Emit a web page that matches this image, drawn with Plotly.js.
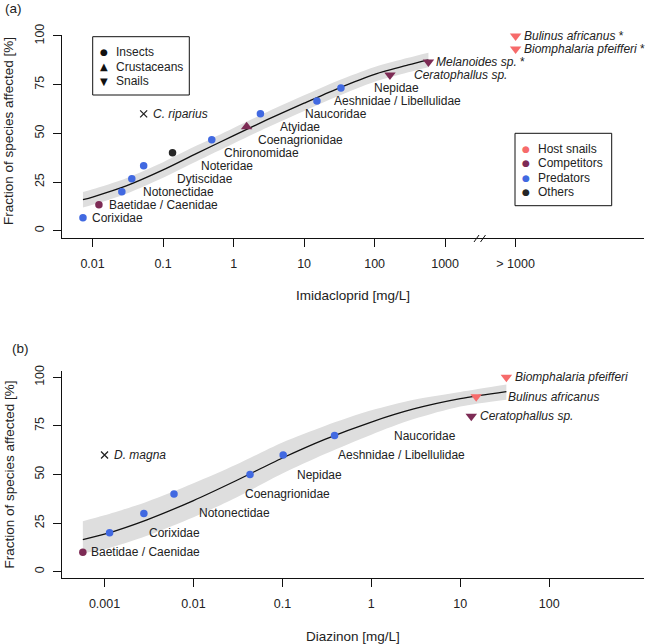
<!DOCTYPE html>
<html>
<head>
<meta charset="utf-8">
<script src="https://cdn.plot.ly/plotly-3.0.1.min.js"></script>
<style>html,body{margin:0;padding:0;background:#fff;}#chart{width:648px;height:644px;}</style>
</head>
<body>
<div id="chart"></div>
<script>
// ---------------- DATA: panel (a) Imidacloprid ----------------
const speciesA = ['Corixidae','Baetidae / Caenidae','Notonectidae','Dytiscidae','Noteridae','Chironomidae','Coenagrionidae','Atyidae','Naucoridae','Aeshnidae / Libellulidae','Nepidae','Ceratophallus sp.','Melanoides sp.','Biomphalaria pfeifferi','Bulinus africanus'];
const concA = [0.0073, 0.0123, 0.026, 0.036, 0.053, 0.136, 0.49, 1.53, 2.4, 15.2, 33.3, 165, 580, 10000, 10000]; // 10000 = "> 1000"
const fracA = [6.67, 13.33, 20, 26.67, 33.33, 40, 46.67, 53.33, 60, 66.67, 73.33, 80, 86.67, 93.33, 100];
const groupA = ['Predators','Competitors','Predators','Predators','Predators','Others','Predators','Competitors','Predators','Predators','Predators','Competitors','Competitors','Host snails','Host snails'];
const taxonA = ['Insects','Insects','Insects','Insects','Insects','Insects','Insects','Crustaceans','Insects','Insects','Insects','Snails','Snails','Snails','Snails'];
const starA = [false,false,false,false,false,false,false,false,false,false,false,false,true,true,true];
const refSpeciesA = ['C. riparius'];
const refConcA = [0.053];
const refFracA = [60];
const curveXA = [0.0073, 0.01, 0.03, 0.1, 0.3, 1, 3, 10, 30, 100, 300, 580];
const curveYA = [15.9, 17.3, 23, 31.2, 39.7, 48.8, 57, 65.5, 73, 80.3, 85.1, 87.7];
const upperA = [19.9, 21.3, 27, 35.2, 43.7, 52.8, 61, 69.5, 77, 84.1, 88.8, 91.4];
const lowerA = [11.9, 13.3, 19, 27.2, 35.7, 44.8, 53, 61.5, 69, 76.5, 81.4, 84];
const tickValsA = [0.01, 0.1, 1, 10, 100, 1000, 10000];
const tickTextA = ['0.01', '0.1', '1', '10', '100', '1000', '> 1000'];

// ---------------- DATA: panel (b) Diazinon ----------------
const speciesB = ['Baetidae / Caenidae','Corixidae','Notonectidae','Coenagrionidae','Nepidae','Aeshnidae / Libellulidae','Naucoridae','Ceratophallus sp.','Bulinus africanus','Biomphalaria pfeifferi'];
const concB = [0.00057, 0.00114, 0.00277, 0.00604, 0.0432, 0.102, 0.386, 13.3, 15.1, 33];
const fracB = [10, 20, 30, 40, 50, 60, 70, 80, 90, 100];
const groupB = ['Competitors','Predators','Predators','Predators','Predators','Predators','Predators','Competitors','Host snails','Host snails'];
const taxonB = ['Insects','Insects','Insects','Insects','Insects','Insects','Insects','Snails','Snails','Snails'];
const starB = [false,false,false,false,false,false,false,false,false,false];
const refSpeciesB = ['D. magna'];
const refConcB = [0.001];
const refFracB = [60];
const curveXB = [0.00057, 0.001, 0.003, 0.01, 0.03, 0.1, 0.3, 1, 3, 10, 33];
const curveYB = [16.5, 19.3, 26.7, 36.6, 46.8, 58.5, 68.1, 77, 83.7, 89, 92.6];
const upperB = [26, 29, 36, 45.5, 55, 66.5, 75, 83, 88.5, 92.5, 96.3];
const lowerB = [9.5, 11.5, 18.5, 28, 38, 50.5, 60.5, 70.5, 78.5, 85, 88.5];
const tickValsB = [0.001, 0.01, 0.1, 1, 10, 100];
const tickTextB = ['0.001', '0.01', '0.1', '1', '10', '100'];

const yTickVals = [0, 25, 50, 75, 100];
const taxonLegend = ['Insects', 'Crustaceans', 'Snails'];
const groupLegend = ['Host snails', 'Competitors', 'Predators', 'Others'];

// ---------------- STYLE / LAYOUT ----------------
const FONT = 'Liberation Sans, Arial, Helvetica, sans-serif';
const TXT = '#222222';
const groupColor = {'Host snails':'#F66B6B', 'Competitors':'#7D2B55', 'Predators':'#4169E1', 'Others':'#262626'};
const taxonSymbol = {'Insects':'circle', 'Crustaceans':'triangle-up', 'Snails':'triangle-down'};
const taxonSize = {'Insects':7.5, 'Crustaceans':10, 'Snails':10};
const taxonGlyph = {'Insects':'●', 'Crustaceans':'▲', 'Snails':'▼'};
const ITALIC = new Set(['Ceratophallus sp.','Melanoides sp.','Biomphalaria pfeifferi','Bulinus africanus','C. riparius','D. magna']);
// pixel offsets of labels from their points
const shiftA = [7, 8, 19, 43, 55, 49, 44, 31, 43, 15, 31, 22, 6, 6, 6];
const shiftB = [6.5, 37, 53, 69, 45, 53, 57, 6.5, 30, 6.5];
const refShift = 7;
const W = 648, H = 644;
const px = v => v / W, py = v => 1 - v / H;

function labelText(name, star) {
  let t = ITALIC.has(name) ? '<i>' + name + '</i>' : name;
  if (star) t += ' *';
  return t;
}

function panelTraces(xa, ya, cx, cy, up, lo, conc, frac, group, taxon, refC, refF) {
  return [
    {x: cx, y: lo, xaxis: xa, yaxis: ya, type: 'scatter', mode: 'lines', line: {width: 0, shape: 'spline', smoothing: 0.8, color: 'rgba(0,0,0,0)'}, hoverinfo: 'skip'},
    {x: cx, y: up, xaxis: xa, yaxis: ya, type: 'scatter', mode: 'lines', fill: 'tonexty', fillcolor: '#DEDEDE', line: {width: 0, shape: 'spline', smoothing: 0.8, color: 'rgba(0,0,0,0)'}, hoverinfo: 'skip'},
    {x: cx, y: cy, xaxis: xa, yaxis: ya, type: 'scatter', mode: 'lines', line: {width: 1.3, shape: 'spline', smoothing: 0.8, color: '#111'}},
    {x: conc, y: frac, xaxis: xa, yaxis: ya, type: 'scatter', mode: 'markers', cliponaxis: false,
      marker: {opacity: 1, color: group.map(g => groupColor[g]), symbol: taxon.map(t => taxonSymbol[t]), size: taxon.map(t => taxonSize[t]), line: {width: 0}}},
    {x: refC, y: refF, xaxis: xa, yaxis: ya, type: 'scatter', mode: 'markers', cliponaxis: false,
      marker: {opacity: 1, symbol: 'x-thin-open', size: 7, line: {width: 1.3, color: '#222'}, color: '#222'}}
  ];
}

const traces = [].concat(
  panelTraces('x', 'y', curveXA, curveYA, upperA, lowerA, concA, fracA, groupA, taxonA, refConcA, refFracA),
  panelTraces('x2', 'y2', curveXB, curveYB, upperB, lowerB, concB, fracB, groupB, taxonB, refConcB, refFracB)
);

const annotations = [];
function addLabels(xr, yr, names, conc, frac, stars, shifts) {
  names.forEach((n, i) => {
    annotations.push({xref: xr, yref: yr, x: Math.log10(conc[i]), y: frac[i], text: labelText(n, stars[i]),
      showarrow: false, xanchor: 'left', yanchor: 'middle', xshift: shifts[i], font: {family: FONT, size: 12, color: TXT}});
  });
}
addLabels('x', 'y', speciesA, concA, fracA, starA, shiftA);
addLabels('x2', 'y2', speciesB, concB, fracB, starB, shiftB);
addLabels('x', 'y', refSpeciesA, refConcA, refFracA, [false], [refShift]);
addLabels('x2', 'y2', refSpeciesB, refConcB, refFracB, [false], [refShift]);

function paperText(x, y, text, size, extra) {
  annotations.push(Object.assign({xref: 'paper', yref: 'paper', x: px(x), y: py(y), text: text, showarrow: false,
    xanchor: 'center', yanchor: 'middle', font: {family: FONT, size: size, color: TXT}}, extra || {}));
}
// axis titles and panel letters
paperText(353, 295, 'Imidacloprid [mg/L]', 13.5);
paperText(353, 636.5, 'Diazinon [mg/L]', 13.5);
paperText(9, 131, 'Fraction of species affected [%]', 13.5, {textangle: -90});
paperText(9, 474.5, 'Fraction of species affected [%]', 13.5, {textangle: -90});
paperText(13, 8, '(a)', 13.5);
paperText(20.5, 348, '(b)', 13.5);

// legend (taxa)
taxonLegend.forEach((t, i) => {
  const yy = 52.3 + i * 14.4;
  paperText(104.3, yy, taxonGlyph[t], t === 'Insects' ? 9 : 10, {font: {family: 'DejaVu Sans', size: t === 'Insects' ? 9 : 10, color: '#111'}});
  paperText(114, yy, t, 12, {xanchor: 'left'});
});
// legend (groups)
groupLegend.forEach((g, i) => {
  const yy = 149 + i * 14.4;
  paperText(526, yy, '●', 9, {font: {family: 'DejaVu Sans', size: 9, color: groupColor[g]}});
  paperText(536, yy, g, 12, {xanchor: 'left'});
});

const shapes = [
  {type: 'rect', xref: 'paper', yref: 'paper', x0: px(92.7), x1: px(189.3), y0: py(95), y1: py(36.7), line: {color: '#111', width: 1}},
  {type: 'rect', xref: 'paper', yref: 'paper', x0: px(515), x1: px(611.7), y0: py(205.7), y1: py(133.3), line: {color: '#111', width: 1}},
  // axis break marks
  {type: 'line', xref: 'paper', yref: 'paper', x0: px(474), y0: py(242), x1: px(479), y1: py(235), line: {color: '#111', width: 1}},
  {type: 'line', xref: 'paper', yref: 'paper', x0: px(480.5), y0: py(242), x1: px(485.5), y1: py(235), line: {color: '#111', width: 1}}
];

function xAxis(range, domain, anchor, tv, tt) {
  return {type: 'log', range: range, domain: domain, anchor: anchor, showline: true, linecolor: '#111', linewidth: 1,
    ticks: 'outside', ticklen: 8, tickcolor: '#111', tickwidth: 1, tickvals: tv, ticktext: tt, showgrid: false, zeroline: false,
    tickfont: {family: FONT, size: 12.5, color: TXT}, ticklabelstandoff: 6, automargin: false, fixedrange: true};
}
function yAxis(range, domain, anchor) {
  return {range: range, domain: domain, anchor: anchor, showline: true, linecolor: '#111', linewidth: 1,
    ticks: 'outside', ticklen: 8, tickcolor: '#111', tickwidth: 1, tickvals: yTickVals, tickangle: -90, showgrid: false, zeroline: false,
    tickfont: {family: FONT, size: 12.5, color: TXT}, ticklabelstandoff: 4, automargin: false, fixedrange: true};
}

const layout = {
  width: W, height: H, margin: {l: 0, r: 0, t: 0, b: 0}, showlegend: false,
  paper_bgcolor: '#fff', plot_bgcolor: '#fff', font: {family: FONT, color: TXT},
  xaxis: xAxis([-2.441, 5.821], [px(61.5), px(644)], 'y', tickValsA, tickTextA),
  yaxis: yAxis([-3.9, 100.5], [py(238.3), py(35)], 'x'),
  xaxis2: xAxis([-3.484, 3.066], [px(61.5), px(644)], 'y2', tickValsB, tickTextB),
  yaxis2: yAxis([-3.4, 103.4], [py(578.3), py(370.7)], 'x2'),
  annotations: annotations, shapes: shapes
};

Plotly.newPlot('chart', traces, layout, {staticPlot: true});
</script>
</body>
</html>
